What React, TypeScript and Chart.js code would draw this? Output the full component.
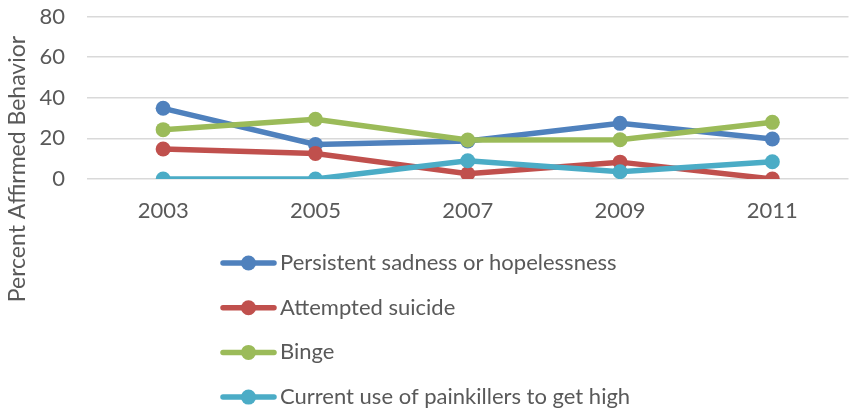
import React, { useEffect, useRef } from "react";
import { Chart, registerables } from "chart.js";

Chart.register(...registerables);

const years = ["2003", "2005", "2007", "2009", "2011"];
const sadness = [34.8, 17.0, 18.7, 27.4, 19.7];
const suicide = [14.8, 12.6, 2.6, 8.3, 0];
const binge = [24.3, 29.4, 19.2, 19.3, 27.9];
const painkillers = [0, 0, 9.0, 3.6, 8.5];
const seriesNames = [
  "Persistent sadness or hopelessness",
  "Attempted suicide",
  "Binge",
  "Current use of painkillers to get high",
];
const seriesColors = ["#4F81BD", "#C0504D", "#9BBB59", "#4BACC6"];
const yTitle = "Percent Affirmed Behavior";

const FONT = "Lato";
const TEXT = "#595959";

const extrasPlugin = {
  id: "extras",
  afterDraw(chart: any) {
    const ctx = chart.ctx;
    ctx.save();
    // axis title
    ctx.font = `23px ${FONT}`;
    ctx.fillStyle = TEXT;
    ctx.translate(18, 169);
    ctx.rotate(-Math.PI / 2);
    ctx.textAlign = "center";
    ctx.textBaseline = "middle";
    ctx.fillText(yTitle, 0, 0);
    ctx.restore();

    // legend
    ctx.save();
    chart.data.datasets.forEach((ds: any, i: number) => {
      const y = 263 + i * 44.7;
      ctx.strokeStyle = ds.borderColor;
      ctx.lineWidth = 5.5;
      ctx.lineCap = "round";
      ctx.beginPath();
      ctx.moveTo(223, y);
      ctx.lineTo(274, y);
      ctx.stroke();
      ctx.fillStyle = ds.borderColor;
      ctx.beginPath();
      ctx.arc(248.5, y, 7.5, 0, Math.PI * 2);
      ctx.fill();
      ctx.fillStyle = TEXT;
      ctx.font = `22px ${FONT}`;
      ctx.textAlign = "left";
      ctx.textBaseline = "middle";
      ctx.fillText(ds.label, 280, y);
    });
    ctx.restore();
  },
};

export default function App() {
  const ref = useRef<HTMLCanvasElement | null>(null);
  useEffect(() => {
    if (!ref.current) return;
    const values = [sadness, suicide, binge, painkillers];
    const chart = new Chart(ref.current, {
      type: "line",
      data: {
        labels: years,
        datasets: values.map((v, i) => ({
          label: seriesNames[i],
          data: v,
          borderColor: seriesColors[i],
          backgroundColor: seriesColors[i],
          pointBackgroundColor: seriesColors[i],
          pointBorderColor: seriesColors[i],
          borderWidth: 5.5,
          pointRadius: 7.5,
          pointBorderWidth: 0,
          tension: 0,
          order: 3 - i,
        })),
      },
      options: {
        animation: false,
        responsive: false,
        maintainAspectRatio: false,
        devicePixelRatio: 1,
        layout: { padding: { top: 16.5, bottom: 185, right: 4.5, left: 0 } },
        plugins: {
          legend: { display: false },
          tooltip: { enabled: false },
          title: { display: false },
        },
        scales: {
          x: {
            type: "category",
            offset: true,
            grid: { display: false, drawTicks: false },
            border: { display: false },
            ticks: { color: TEXT, font: { family: FONT, size: 22 }, padding: 19 },
            afterFit: (s: any) => {
              s.height = 50;
              s.paddingLeft = 0;
              s.paddingRight = 0;
            },
          },
          y: {
            min: 0,
            max: 80,
            ticks: { stepSize: 20, color: TEXT, font: { family: FONT, size: 22 }, padding: 22 },
            grid: { color: "#D9D9D9", lineWidth: 1.5, drawTicks: false },
            border: { display: false },
            afterFit: (s: any) => {
              s.width = 87;
              s.paddingTop = 0;
              s.paddingBottom = 0;
            },
          },
        },
      },
      plugins: [extrasPlugin],
    });
    return () => chart.destroy();
  }, []);
  return (
    <div style={{ position: "absolute", left: 0, top: 0, width: 849, height: 414, overflow: "hidden", background: "#fff" }}>
      <canvas ref={ref} width={856} height={414} style={{ width: 856, height: 414, display: "block" }} />
    </div>
  );
}
